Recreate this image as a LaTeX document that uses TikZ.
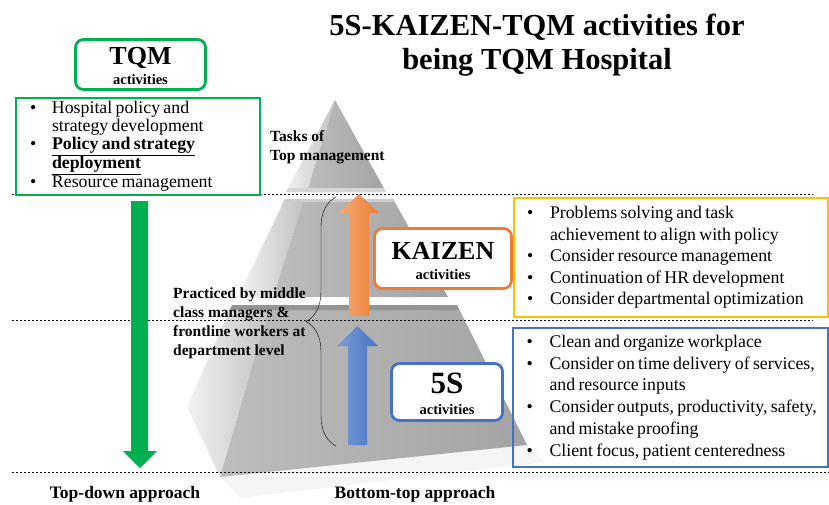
\documentclass[tikz,border=0pt]{standalone}
\usepackage{fontspec}
\setmainfont{Liberation Serif}
\usetikzlibrary{decorations.pathreplacing}
\definecolor{tqmgreen}{RGB}{0,176,80}
\definecolor{kzorange}{RGB}{237,125,49}
\definecolor{fsblue}{RGB}{68,114,196}
\definecolor{kzyellow}{RGB}{255,192,0}
\begin{document}
\begin{tikzpicture}
[x=1pt,y=-1pt,
activity box/.style={draw,rounded corners=8pt,line width=2.8pt,fill=white,align=center,inner sep=0pt,font=\fontsize{14.5}{20}\selectfont\bfseries},
list box/.style={draw,align=left,inner xsep=13pt,inner ysep=0pt},
side text/.style={align=left,inner sep=0pt,font=\fontsize{15.5}{19}\selectfont\bfseries},
dashed rule/.style={line width=0.6pt,dash pattern=on 2.4pt off 1.6pt},
front face/.style={left color=black!26,right color=black!36},
side face/.style={left color=black!5,right color=black!24}]
\useasboundingbox (0,0) rectangle (829,504);
\fill[black!4] (220,477) -- (527,445) -- (545,462) -- (240,498) -- cycle;
% pyramid
\shade[side face] (335,100) -- (286,192) -- (307,192) -- cycle;
\shade[front face] (335,100) -- (307,192) -- (386,192) -- cycle;
\fill[black!16] (288,188) -- (384,188) -- (386,192) -- (286,192) -- cycle;
\shade[side face] (285,199) -- (304,199) -- (273,297) -- (238,297) -- cycle;
\shade[front face] (304,199) -- (393,199) -- (448,297) -- (273,297) -- cycle;
\fill[black!20] (285,199) -- (393,199) -- (395,202) -- (283,202) -- cycle;
\shade[side face] (232,305) -- (270,305) -- (220,477) -- (187,407) -- cycle;
\shade[front face] (270,305) -- (457,305) -- (527,445) -- (220,477) -- cycle;
\fill[black!42] (232,305) -- (457,305) -- (459,310) -- (230,310) -- cycle;
\draw[dashed rule] (12,194) -- (813,194);
\draw[dashed rule] (12,320) -- (813,320);
\draw[dashed rule] (12,472) -- (829,472);
% arrows
\fill[tqmgreen] (131,201) -- (148,201) -- (148,451) -- (157,451) -- (140,468) -- (123,451) -- (131,451) -- cycle;
\shade[left color=kzorange!65!white,right color=kzorange] (349,316) -- (369,316) -- (369,213) -- (379,213) -- (359,194) -- (339,213) -- (349,213) -- cycle;
\shade[left color=fsblue!70!white,right color=fsblue] (348,445) -- (367,445) -- (367,346) -- (378,346) -- (357.5,326) -- (337,346) -- (348,346) -- cycle;
\draw[decorate,decoration={brace,amplitude=30pt,aspect=0.5}] (336,446) -- (336,197);
\node[font=\fontsize{30.5}{34}\selectfont\bfseries,align=center] (title) at (537,45)
{5S-KAIZEN-TQM activities for\\being TQM Hospital};
\node[activity box,draw=tqmgreen,minimum width=130pt,minimum height=50pt] (tqm) at (140.5,64.5)
{\fontsize{26}{26}\selectfont\rule{0pt}{21pt}TQM\\activities};
\node[activity box,draw=kzorange,minimum width=137pt,minimum height=60pt] (kaizen) at (443,258.5)
{\fontsize{26}{26}\selectfont\rule{0pt}{22pt}KAIZEN\\activities};
\node[activity box,draw=fsblue,minimum width=111pt,minimum height=57pt] (fives) at (447,392)
{\fontsize{31}{31}\selectfont\rule{0pt}{25pt}5S\\[1pt]activities};
\node[list box,draw=tqmgreen,line width=2.4pt,inner xsep=14pt,text width=216pt,minimum width=242pt,minimum height=97pt] (tqmlist) at (138,146.5)
{\fontsize{17.8}{18.3}\selectfont\begin{tabular}{@{}p{22pt}@{}l@{}}
\textbullet & Hospital policy and\\
 & strategy development\\
\textbullet & \underline{\bf Policy and strategy}\\
 & \underline{\bf deployment}\\
\textbullet & Resource management
\end{tabular}};
\node[list box,draw=kzyellow,line width=1.6pt,text width=288pt,minimum width=314pt,minimum height=119pt] (kaizenlist) at (671,257.5)
{\fontsize{17.8}{21.5}\selectfont\begin{tabular}{@{}p{23pt}@{}l@{}}
\textbullet & Problems solving and task\\
 & achievement to align with policy\\
\textbullet & Consider resource management\\
\textbullet & Continuation of HR development\\
\textbullet & Consider departmental optimization
\end{tabular}};
\node[list box,draw=fsblue,line width=1.4pt,text width=288pt,minimum width=315pt,minimum height=139pt] (fiveslist) at (670.5,397.5)
{\fontsize{17.8}{21.8}\selectfont\begin{tabular}{@{}p{23pt}@{}l@{}}
\textbullet & Clean and organize workplace\\
\textbullet & Consider on time delivery of services,\\
 & and resource inputs\\
\textbullet & Consider outputs, productivity, safety,\\
 & and mistake proofing\\
\textbullet & Client focus, patient centeredness
\end{tabular}};
\node[side text,anchor=west] (tasks) at (270,147) {Tasks of\\Top management};
\node[side text,anchor=west] (practiced) at (173,323) {Practiced by middle\\class managers \&\\frontline workers at\\department level};
\node[font=\fontsize{17.5}{20}\selectfont\bfseries] (topdown) at (125,494) {Top-down approach};
\node[font=\fontsize{17.5}{20}\selectfont\bfseries] (bottomtop) at (415,494) {Bottom-top approach};
\end{tikzpicture}
\end{document}
